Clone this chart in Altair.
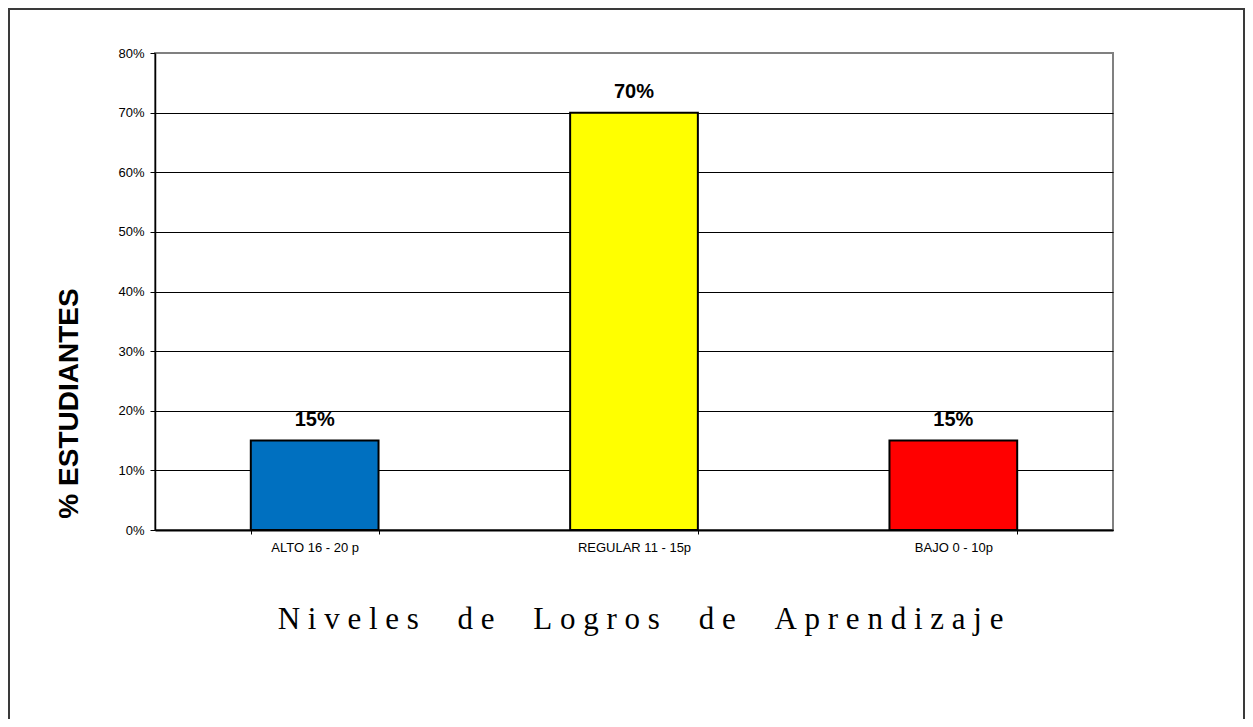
import altair as alt
import pandas as pd

categorias = ["ALTO 16 - 20 p", "REGULAR 11 - 15p", "BAJO 0 - 10p"]
porcentajes = [0.15, 0.70, 0.15]
colores = ["#0070C0", "#FFFF00", "#FF0000"]
y_ticks = [0, 0.1, 0.2, 0.3, 0.4, 0.5, 0.6, 0.7, 0.8]

df = pd.DataFrame({"nivel": categorias, "pct": porcentajes})

NB = "\u00a0"
def spaced(words):
    return (NB * 5).join(NB.join(list(w)) for w in words)

x_title = spaced(["Niveles", "de", "Logros", "de", "Aprendizaje"])

W, H = 958, 477
PL, PT = 147, 45
TOTW, TOTH = 1237, 711

x_enc = alt.X(
    "nivel:N",
    sort=categorias,
    scale=alt.Scale(paddingInner=0.6, paddingOuter=0.3),
    axis=alt.Axis(
        title=x_title,
        labelAngle=0,
        labelFont="Liberation Sans",
        labelFontSize=13,
        labelColor="black",
        labelBaseline="alphabetic",
        labelPadding=17,
        tickBand="extent",
        tickSize=4,
        tickColor="black",
        domainColor="black",
        domainWidth=2,
        titleFont="Liberation Serif",
        titleFontSize=31,
        titleFontWeight="normal",
        titleColor="black",
        titleAlign="center",
        titleBaseline="alphabetic",
        titleX=485,
        titleY=98,
    ),
)

y_enc = alt.Y(
    "pct:Q",
    scale=alt.Scale(domain=[0, 0.8], nice=False),
    axis=alt.Axis(
        title="% ESTUDIANTES",
        values=y_ticks,
        format=".0%",
        labelFont="Liberation Sans",
        labelFontSize=13,
        labelColor="black",
        labelPadding=6,
        tickSize=5,
        tickColor="black",
        domainColor="black",
        domainWidth=1.5,
        grid=True,
        gridColor=alt.condition("datum.value >= 0.8", alt.value("#808080"), alt.value("black")),
        gridWidth=1,
        titleFont="Liberation Sans",
        titleFontSize=28,
        titleFontWeight="bold",
        titleColor="black",
        titleAngle=270,
        titleAlign="center",
        titleBaseline="alphabetic",
        titleX=-78,
        titleY=350,
    ),
)

bars = alt.Chart(df).mark_bar(stroke="black", strokeWidth=2).encode(
    x=x_enc,
    y=y_enc,
    color=alt.Color("nivel:N", sort=categorias,
                    scale=alt.Scale(domain=categorias, range=colores), legend=None),
)

labels = alt.Chart(df).mark_text(
    font="Liberation Sans", fontSize=20, fontWeight="bold", color="black",
    baseline="alphabetic", dy=-15,
).encode(
    x=alt.X("nivel:N", sort=categorias),
    y="pct:Q",
    text=alt.Text("pct:Q", format=".0%"),
)

frame = alt.Chart(pd.DataFrame({"k": [0]})).mark_rect(
    fill=None, stroke="#3a3a3a", strokeWidth=2, clip=False
).encode(
    x=alt.value(-PL + 1),
    x2=alt.value(TOTW - PL - 1),
    y=alt.value(-PT + 1),
    y2=alt.value(TOTH - PT + 20),
)

chart = alt.layer(frame, bars, labels).properties(
    width=W, height=H,
    autosize=alt.AutoSizeParams(type="none"),
    padding={"left": PL, "top": PT, "right": TOTW - PL - W, "bottom": TOTH - PT - H},
    background="white",
).configure_view(stroke="#808080", strokeWidth=2)

chart.save("out.html", embed_options={"renderer": "svg", "actions": False})
